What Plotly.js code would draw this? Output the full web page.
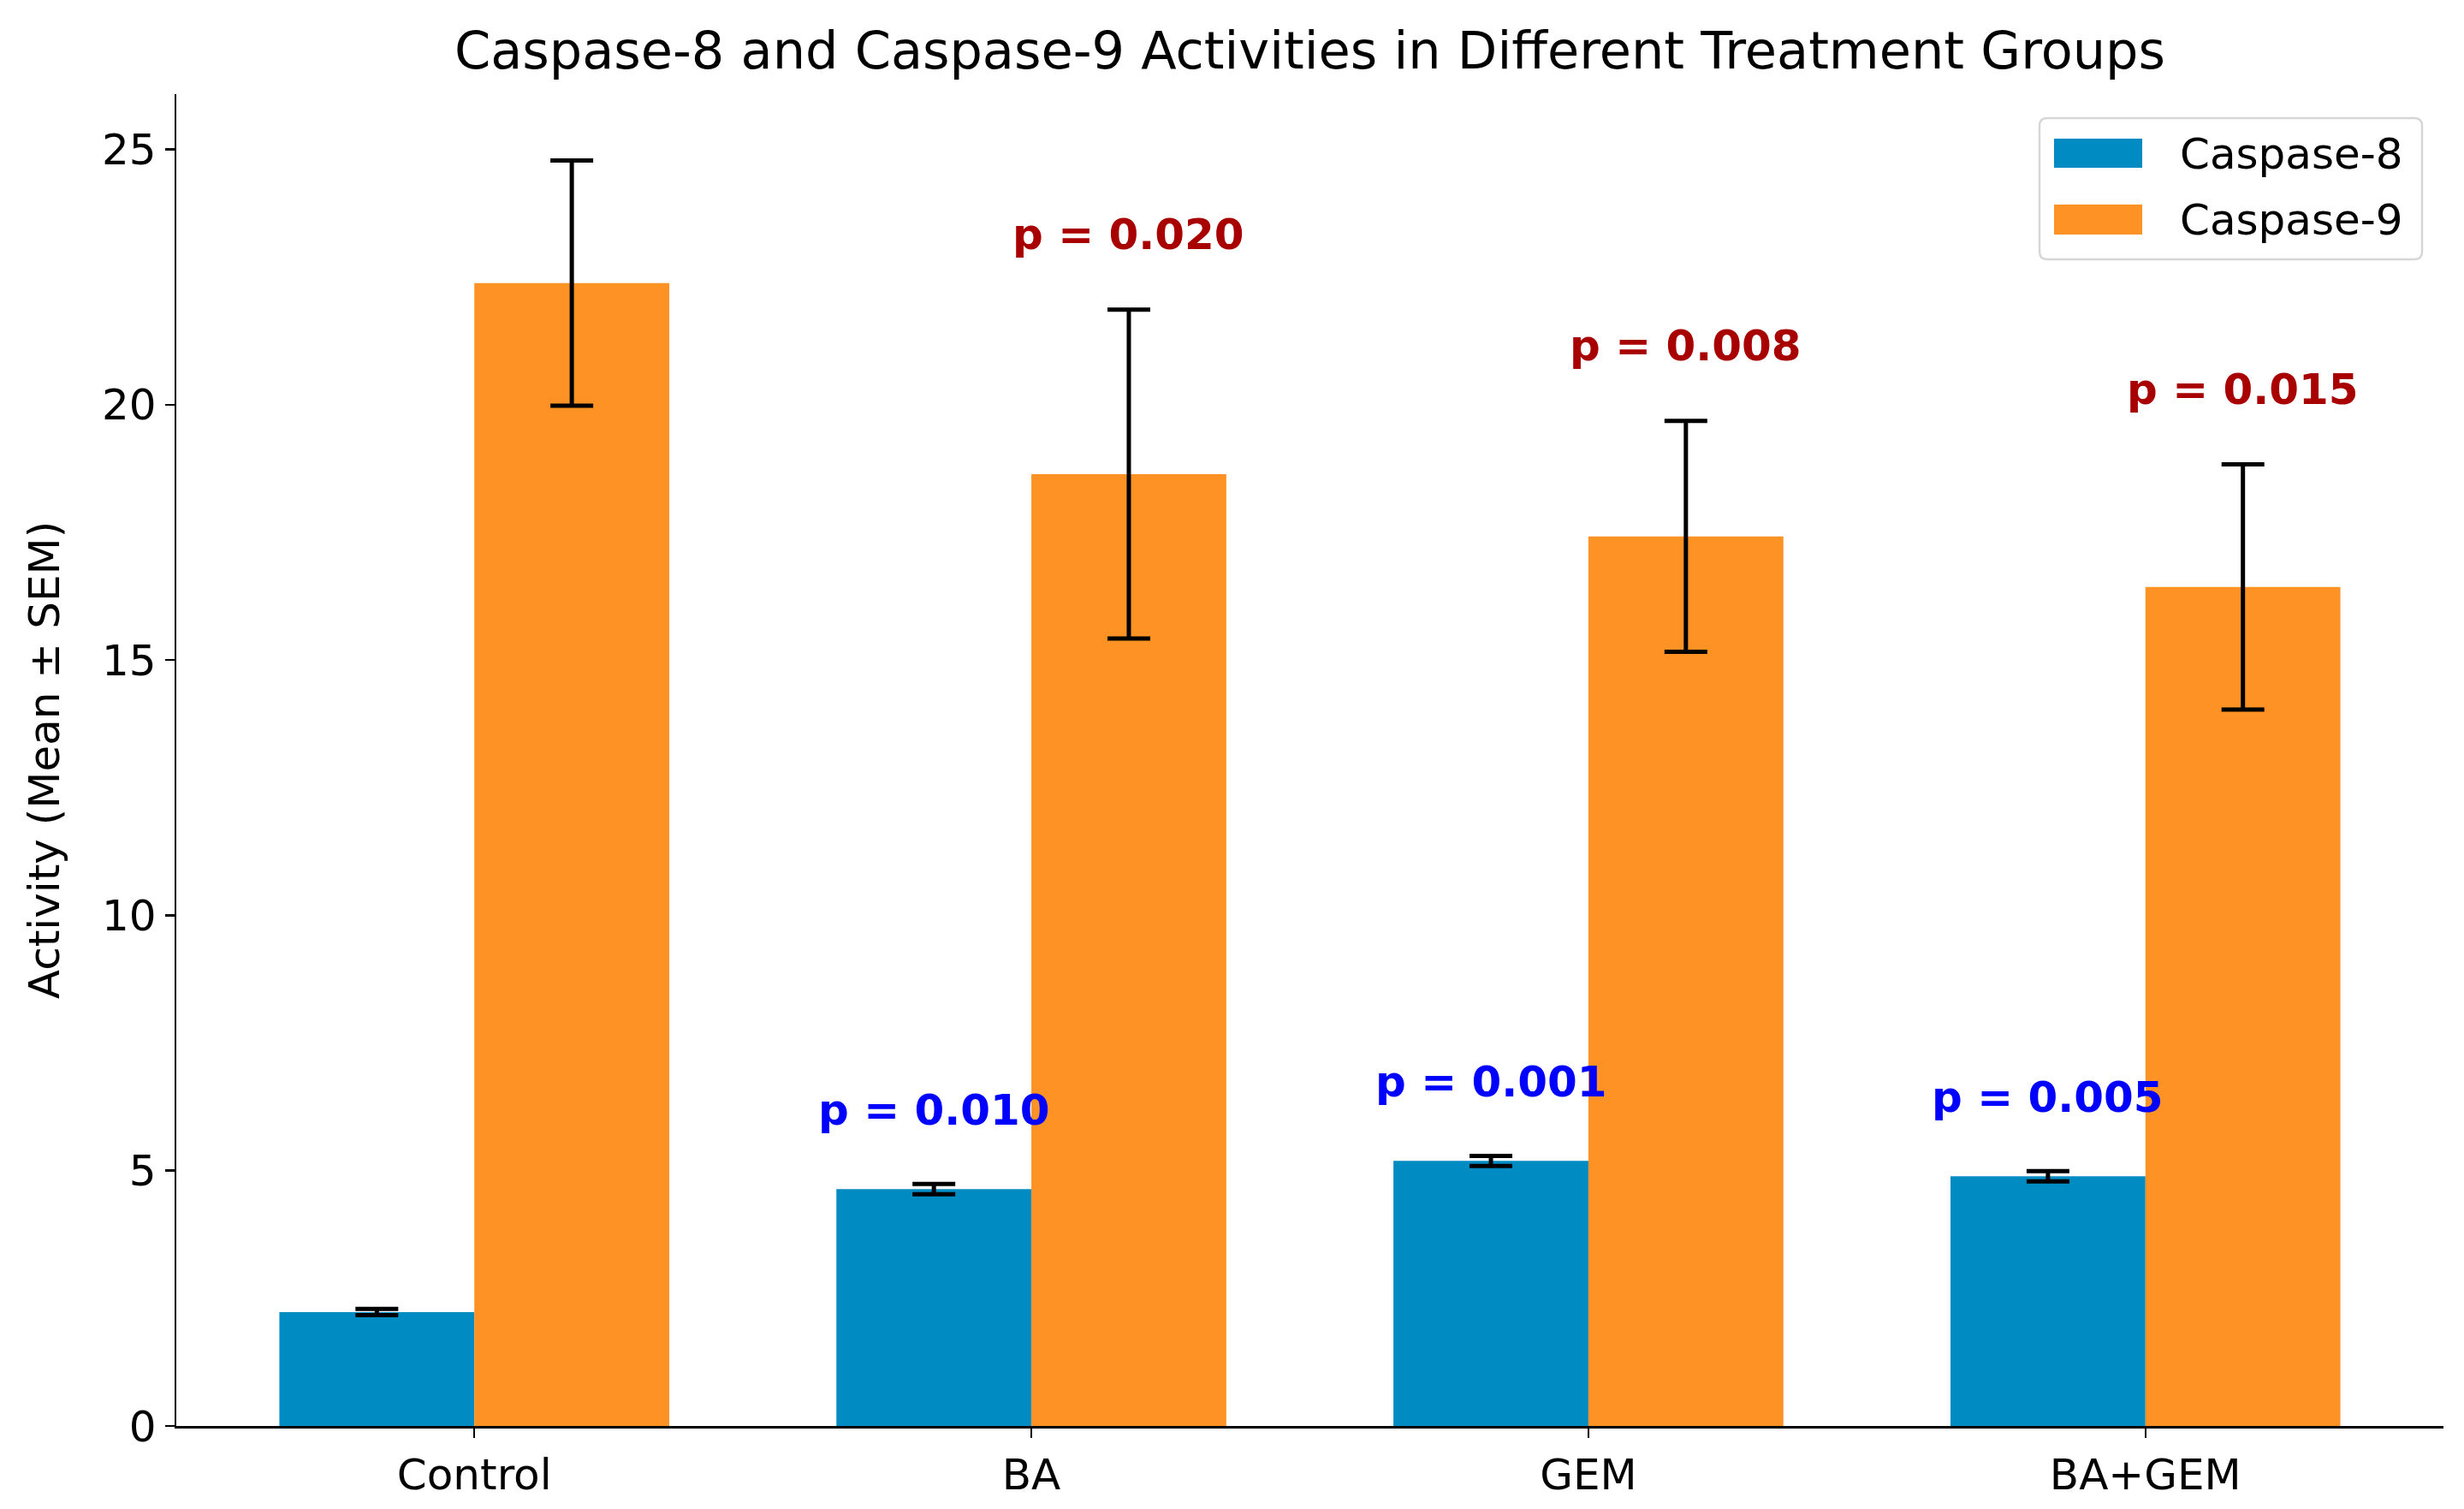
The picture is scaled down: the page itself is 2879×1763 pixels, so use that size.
<!DOCTYPE html>
<html>
<head>
<meta charset="utf-8">
<script src="https://cdn.plot.ly/plotly-3.0.1.min.js"></script>
<style>html,body{margin:0;padding:0;background:#fff;}#chart{width:2879px;height:1763px;}</style>
</head>
<body>
<div id="chart"></div>
<script>
const groups = ['Control', 'BA', 'GEM', 'BA+GEM'];
const caspase8 = [2.23, 4.64, 5.19, 4.89];
const caspase8Sem = [0.06, 0.10, 0.10, 0.10];
const caspase9 = [22.38, 18.64, 17.42, 16.43];
const caspase9Sem = [2.40, 3.22, 2.26, 2.40];
const pCaspase8 = [null, 0.010, 0.001, 0.005];
const pCaspase9 = [null, 0.020, 0.008, 0.015];
const seriesNames = ['Caspase-8', 'Caspase-9'];
const yTicks = [0, 5, 10, 15, 20, 25];

const BLUE = '#008BC2';
const ORANGE = '#FF9224';
const FONT = 'DejaVu Sans, Liberation Sans, sans-serif';
const W = 2879, H = 1763;
const M = {l: 206, r: 24, t: 110, b: 97};
const barWidth = 0.35;

const errStyle = {type: 'data', visible: true, color: '#000', thickness: 5, width: 25};

const traces = [
  {type: 'bar', name: seriesNames[0], x: groups, y: caspase8,
   marker: {color: BLUE}, error_y: Object.assign({array: caspase8Sem}, errStyle),
   showlegend: false, hoverinfo: 'x+y'},
  {type: 'bar', name: seriesNames[1], x: groups, y: caspase9,
   marker: {color: ORANGE}, error_y: Object.assign({array: caspase9Sem}, errStyle),
   showlegend: false, hoverinfo: 'x+y'}
];

const annotations = [];
groups.forEach((g, i) => {
  if (pCaspase8[i] !== null) {
    annotations.push({x: i - barWidth / 2, y: caspase8[i] + caspase8Sem[i] + 1.0, xref: 'x', yref: 'y',
      text: '<b>p = ' + pCaspase8[i].toFixed(3) + '</b>', showarrow: false, yshift: -4,
      xanchor: 'center', yanchor: 'bottom', font: {family: FONT, size: 50, color: '#0000FF'}});
  }
  if (pCaspase9[i] !== null) {
    annotations.push({x: i + barWidth / 2, y: caspase9[i] + caspase9Sem[i] + 1.0, xref: 'x', yref: 'y',
      text: '<b>p = ' + pCaspase9[i].toFixed(3) + '</b>', showarrow: false, yshift: -3,
      xanchor: 'center', yanchor: 'bottom', font: {family: FONT, size: 50, color: '#A80000'}});
  }
});

// custom legend (matplotlib-style) in paper coordinates, sized from pixels
const pw = W - M.l - M.r, ph = H - M.t - M.b;
const px2x = (px) => (px - M.l) / pw;
const px2y = (py) => (H - M.b - py) / ph;
function roundRect(x0p, y0p, x1p, y1p, r) {
  const X0 = px2x(x0p), X1 = px2x(x1p), Yt = px2y(y0p), Yb = px2y(y1p);
  const rx = r / pw, ry = r / ph;
  return 'M' + (X0 + rx) + ',' + Yb + ' L' + (X1 - rx) + ',' + Yb +
    ' Q' + X1 + ',' + Yb + ' ' + X1 + ',' + (Yb + ry) +
    ' L' + X1 + ',' + (Yt - ry) + ' Q' + X1 + ',' + Yt + ' ' + (X1 - rx) + ',' + Yt +
    ' L' + (X0 + rx) + ',' + Yt + ' Q' + X0 + ',' + Yt + ' ' + X0 + ',' + (Yt - ry) +
    ' L' + X0 + ',' + (Yb + ry) + ' Q' + X0 + ',' + Yb + ' ' + (X0 + rx) + ',' + Yb + ' Z';
}
const shapes = [
  {type: 'path', xref: 'paper', yref: 'paper', path: roundRect(2383, 138, 2830, 303, 9),
   line: {color: '#D6D6D6', width: 2.5}, fillcolor: 'rgba(255,255,255,0.85)', layer: 'above'}
];
const legendColors = [BLUE, ORANGE];
const legendRows = [[162, 196, 180], [239, 274, 257]];
seriesNames.forEach((n, k) => {
  const r = legendRows[k];
  shapes.push({type: 'rect', xref: 'paper', yref: 'paper',
    x0: px2x(2400), x1: px2x(2503), y0: px2y(r[1]), y1: px2y(r[0]),
    line: {width: 0}, fillcolor: legendColors[k], layer: 'above'});
  annotations.push({xref: 'paper', yref: 'paper', x: px2x(2545), y: px2y(r[2]),
    text: n, showarrow: false, xanchor: 'left', yanchor: 'middle',
    font: {family: FONT, size: 50, color: '#000'}});
});

const layout = {
  width: W, height: H,
  margin: M,
  paper_bgcolor: '#fff', plot_bgcolor: '#fff',
  font: {family: FONT, size: 50, color: '#000'},
  title: {text: 'Caspase-8 and Caspase-9 Activities in Different Treatment Groups',
    font: {family: FONT, size: 60.5, color: '#000'},
    x: 0.5, xref: 'paper', y: 1 - 59 / H, yref: 'container', xanchor: 'center', yanchor: 'middle'},
  barmode: 'group', bargap: 1 - 2 * barWidth, bargroupgap: 0,
  xaxis: {type: 'category', range: [-0.535, 3.535], showline: true, linecolor: '#000', linewidth: 2.5,
    ticks: 'outside', ticklen: 11, tickwidth: 2.5, tickcolor: '#000', showgrid: false, zeroline: false,
    tickfont: {family: FONT, size: 50, color: '#000'}, automargin: false},
  yaxis: {range: [0, 26.08], tickvals: yTicks, ticktext: yTicks.map(String), showline: true, linecolor: '#000', linewidth: 2.5,
    ticks: 'outside', ticklen: 11, tickwidth: 2.5, tickcolor: '#000', showgrid: false, zeroline: false,
    tickfont: {family: FONT, size: 50, color: '#000'}, automargin: false,
    title: {text: 'Activity (Mean ± SEM)', font: {family: FONT, size: 50, color: '#000'}, standoff: 34}},
  annotations: annotations,
  shapes: shapes,
  showlegend: false
};

Plotly.newPlot('chart', traces, layout, {staticPlot: true, displayModeBar: false});
</script>
</body>
</html>
